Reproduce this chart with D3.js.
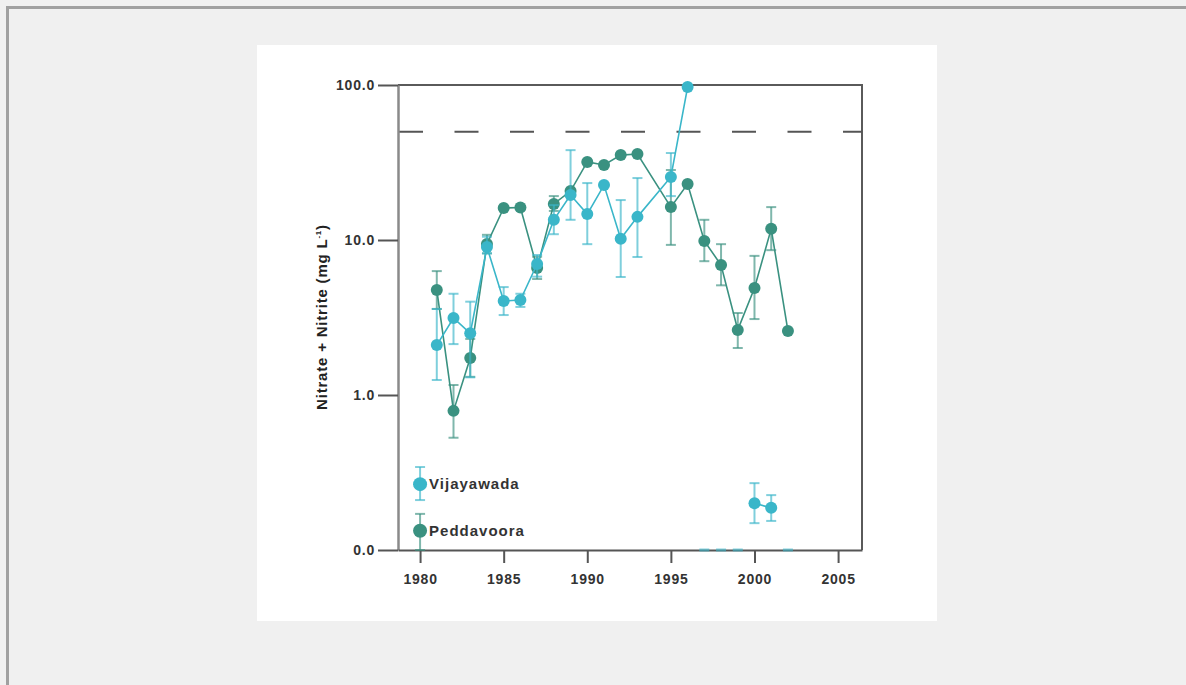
<!DOCTYPE html>
<html>
<head>
<meta charset="utf-8">
<script src="https://cdn.jsdelivr.net/npm/d3@7"></script>
<style>
  body { margin: 0; background: #f0f0f0; font-family: "Liberation Sans", Arial, sans-serif; }
  #frame { position: absolute; left: 6px; top: 6px; width: 1180px; height: 679px;
           border-left: 3px solid #a0a0a0; border-top: 3px solid #a0a0a0; box-sizing: border-box; }
</style>
</head>
<body>
<div id="frame"></div>
<svg id="chart" width="1186" height="685" style="position:absolute;left:0;top:0"></svg>
<script>
// Vijayawada (0 = below detection, drawn on the axis)
const vijYears = [1981, 1982, 1983, 1984, 1985, 1986, 1987, 1988, 1989, 1990, 1991, 1992, 1993, 1995, 1996, 1997, 1998, 1999, 2000, 2001, 2002];
const vijValues = [2.1, 3.14, 2.5, 9.0, 4.04, 4.1, 7.0, 13.5, 19.5, 14.7, 22.6, 10.2, 14.1, 25.5, 97, 0, 0, 0, 0.2, 0.187, 0];
const vijLow = [1.25, 2.13, 1.3, 8.2, 3.28, 3.7, 5.8, 10.9, 13.5, 9.4, null, 5.77, 7.77, 19.2, null, null, null, null, 0.149, 0.154, null];
const vijHigh = [3.59, 4.5, 4.0, 10.5, 4.97, 4.5, 8.0, 16.8, 38, 23.3, null, 18.1, 25.1, 36.4, null, null, null, null, 0.27, 0.226, null];

// Peddavoora
const pedYears = [1981, 1982, 1983, 1984, 1985, 1986, 1987, 1988, 1989, 1990, 1991, 1992, 1993, 1995, 1996, 1997, 1998, 1999, 2000, 2001, 2002];
const pedValues = [4.76, 0.79, 1.73, 9.42, 16.1, 16.2, 6.6, 17.1, 20.7, 31.9, 30.5, 35.3, 35.9, 16.3, 23.0, 9.86, 6.9, 2.63, 4.9, 11.8, 2.59];
const pedLow = [3.59, 0.53, 1.31, 8.2, null, null, 5.6, 15.4, null, null, null, null, null, 9.3, null, 7.3, 5.1, 2.01, 3.09, 8.6, null];
const pedHigh = [6.3, 1.16, 2.3, 10.8, null, null, 7.8, 19.2, null, null, null, null, null, 28.3, null, 13.5, 9.4, 3.38, 7.9, 16.3, null];

const limitValue = 50;
const yTicks = [0.1, 1, 10, 100];
const yTickLabels = ["0.0", "1.0", "10.0", "100.0"];
const xTicks = [1980, 1985, 1990, 1995, 2000, 2005];

const legendNames = ["Vijayawada", "Peddavoora"];
const legendYear = 1980;
const legendValues = [0.266, 0.133];
const legendLow = [0.21, 0.1];
const legendHigh = [0.343, 0.171];

const cyan = "#3ab6c9";
const green = "#3a9180";
const colors = [cyan, green];

const svg = d3.select("#chart");
svg.append("rect").attr("x", 257).attr("y", 45).attr("width", 680).attr("height", 576).attr("fill", "#fff");

const margin = {left: 398, right: 862, top: 85, bottom: 550};
const x = d3.scaleLinear().domain([1978.68, 2006.43]).range([margin.left, margin.right]);
const y = d3.scaleLog().domain([0.1, 100]).range([margin.bottom, margin.top]);

const g = svg.append("g");

// frame (top and right)
g.append("path")
  .attr("d", `M${margin.left},${margin.top}H${margin.right}V${margin.bottom}`)
  .attr("fill", "none").attr("stroke", "#5a5a5a").attr("stroke-width", 2);

// dashed limit line
g.append("line")
  .attr("x1", margin.left + 1).attr("x2", margin.right)
  .attr("y1", y(limitValue)).attr("y2", y(limitValue))
  .attr("stroke", "#555").attr("stroke-width", 2)
  .attr("stroke-dasharray", "24,31.5");

// axes
const yAxis = g.append("g")
  .attr("transform", `translate(${margin.left},0)`)
  .call(d3.axisLeft(y).tickValues(yTicks).tickSize(20).tickSizeOuter(0).tickPadding(3)
    .tickFormat((d, i) => yTickLabels[i]));
yAxis.select(".domain").attr("stroke", "#8a8a8a").attr("stroke-width", 2.5);
yAxis.selectAll(".tick line").attr("stroke", "#555").attr("stroke-width", 2);

const xAxis = g.append("g")
  .attr("transform", `translate(0,${margin.bottom})`)
  .call(d3.axisBottom(x).tickValues(xTicks).tickSize(13).tickSizeOuter(0).tickPadding(11).tickFormat(d3.format("d")));
xAxis.select(".domain").attr("stroke", "#555").attr("stroke-width", 2);
xAxis.selectAll(".tick line").attr("stroke", "#555").attr("stroke-width", 2);

svg.selectAll(".tick text")
  .attr("font-family", "Liberation Sans, Arial, sans-serif")
  .attr("font-size", 14).attr("letter-spacing", 0.8)
  .attr("font-weight", "bold").attr("fill", "#333");

// y label
svg.append("text")
  .attr("transform", "translate(327,317) rotate(-90)")
  .attr("text-anchor", "middle")
  .attr("font-size", 15).attr("letter-spacing", 0.8)
  .attr("font-weight", "bold").attr("fill", "#222")
  .html('Nitrate + Nitrite (mg L<tspan dy="-6" font-size="8">-1</tspan><tspan dy="6">)</tspan>');

function drawSeries(years, values, low, high, color) {
  const pts = years.map((yr, i) => ({yr, v: values[i], lo: low[i], hi: high[i]}));
  // error bars
  const eb = g.append("g").attr("stroke", color).attr("stroke-opacity", 0.65).attr("stroke-width", 2);
  pts.filter(d => d.lo != null).forEach(d => {
    eb.append("line").attr("x1", x(d.yr)).attr("x2", x(d.yr)).attr("y1", y(d.lo)).attr("y2", y(d.hi));
    eb.append("line").attr("x1", x(d.yr) - 5).attr("x2", x(d.yr) + 5).attr("y1", y(d.lo)).attr("y2", y(d.lo));
    eb.append("line").attr("x1", x(d.yr) - 5).attr("x2", x(d.yr) + 5).attr("y1", y(d.hi)).attr("y2", y(d.hi));
  });
  // line
  g.append("path")
    .datum(pts)
    .attr("fill", "none").attr("stroke", color).attr("stroke-width", 1.6)
    .attr("d", d3.line().defined(d => d.v > 0).x(d => x(d.yr)).y(d => y(d.v)));
  // points
  g.append("g").selectAll("circle")
    .data(pts.filter(d => d.v > 0))
    .enter().append("circle")
      .attr("cx", d => x(d.yr)).attr("cy", d => y(d.v))
      .attr("r", 6).style("fill", color);
  // below-detection values sit on the axis
  g.append("g").selectAll("rect")
    .data(pts.filter(d => d.v === 0))
    .enter().append("rect")
      .attr("x", d => x(d.yr) - 5).attr("y", y(0.1) - 1.5)
      .attr("width", 10).attr("height", 3)
      .style("fill", color).style("opacity", 0.6);
}

drawSeries(pedYears, pedValues, pedLow, pedHigh, green);
drawSeries(vijYears, vijValues, vijLow, vijHigh, cyan);

// legend
legendNames.forEach((name, i) => {
  const lx = x(legendYear);
  const lg = g.append("g");
  lg.append("line").attr("x1", lx).attr("x2", lx).attr("y1", y(legendLow[i])).attr("y2", y(legendHigh[i]))
    .attr("stroke", colors[i]).attr("stroke-opacity", 0.65).attr("stroke-width", 2);
  [legendLow[i], legendHigh[i]].forEach(v => {
    lg.append("line").attr("x1", lx - 5).attr("x2", lx + 5).attr("y1", y(v)).attr("y2", y(v))
      .attr("stroke", colors[i]).attr("stroke-opacity", 0.65).attr("stroke-width", 2);
  });
  lg.append("circle").attr("cx", lx).attr("cy", y(legendValues[i])).attr("r", 7).style("fill", colors[i]);
  lg.append("text").attr("x", lx + 9).attr("y", y(legendValues[i]) + 5)
    .attr("font-size", 15).attr("letter-spacing", 1)
    .attr("font-weight", "bold").attr("fill", "#333").text(name);
});
</script>
</body>
</html>
